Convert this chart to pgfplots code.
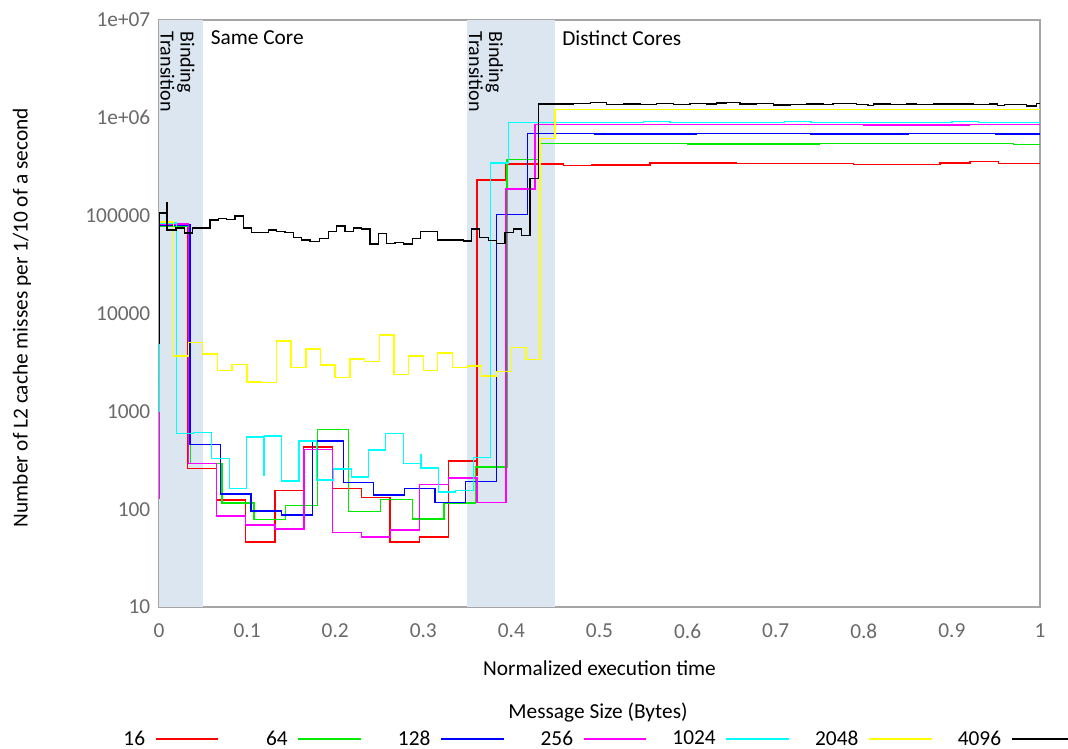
\documentclass[border=0pt]{standalone}
\usepackage{pgfplots}
\pgfplotsset{compat=1.18}
\usepackage{fontspec}
\setmainfont{Carlito}
\definecolor{shade}{RGB}{220,230,241}
\definecolor{tickgray}{RGB}{105,105,105}
\definecolor{axgray}{RGB}{165,165,165}
\definecolor{cred}{RGB}{255,0,0}
\definecolor{cgreen}{RGB}{0,235,0}
\definecolor{cblue}{RGB}{0,0,255}
\definecolor{cmag}{RGB}{255,0,255}
\definecolor{ccyan}{RGB}{0,255,255}
\definecolor{cyel}{RGB}{255,255,0}
\definecolor{cblack}{RGB}{0,0,0}
\begin{document}
\begin{tikzpicture}[font=\fontsize{16}{19}\selectfont]
\useasboundingbox (-119.25pt,-106.5pt) rectangle (681.75pt,455.25pt);
\begin{axis}[
  at={(0pt,0pt)}, anchor=south west,
  scale only axis, width=660.75pt, height=440.25pt,
  xmin=0, xmax=1, ymode=log, ymin=10, ymax=1e7,
  xtick={0,0.1,0.2,0.3,0.4,0.5,0.6,0.7,0.8,0.9,1},
  xticklabels={0,0.1,0.2,0.3,0.4,0.5,0.6,0.7,0.8,0.9,1},
  ytick={10,100,1000,10000,100000,1000000,10000000},
  yticklabels={10,100,1000,10000,100000,1e+06,1e+07},
  /pgf/number format/assume math mode=true,
  tick style={draw=none},
  axis line style={draw=axgray, line width=0.9pt},
  tick label style={text=tickgray, font=\fontsize{16}{19}\selectfont},
  xticklabel style={yshift=-9pt},
  yticklabel style={xshift=-3pt},
  xlabel={Normalized execution time},
  xlabel style={at={(axis description cs:0.5,-0.1039)}, anchor=center},
  ylabel={Number of L2 cache misses per 1/10 of a second},
  ylabel style={at={(axis description cs:-0.1555,0.493)}, anchor=center},
  legend columns=7, legend plot pos=right,
  legend style={draw=none, fill=none, at={(axis description cs:-0.0936,-0.2249)}, anchor=west,
    inner sep=0pt, outer sep=0pt, font=\fontsize{16}{19}\selectfont,
    nodes={text width=51.4pt, align=right, inner sep=0pt},
    /tikz/every odd column/.style={column sep=7.5pt},
    /tikz/every even column/.style={column sep=0pt}},
  legend image code/.code={\draw[#1] (0pt,0pt) -- (47pt,0pt);},
  every axis plot/.append style={line width=1.1pt},
  clip=false,
]
% shaded regions
\addplot[fill=shade, draw=none, forget plot] coordinates {(0,10) (0.05,10) (0.05,1e7) (0,1e7)} -- cycle;
\addplot[fill=shade, draw=none, forget plot] coordinates {(0.35,10) (0.45,10) (0.45,1e7) (0.35,1e7)} -- cycle;

% 16
\addplot[const plot, color=cred] coordinates {
(0,350) (0.0005,79000) (0.0326,261) (0.0655,124) (0.0984,46.3) (0.1317,156) (0.1638,434)
(0.1972,163) (0.2301,131) (0.2622,46.3) (0.2955,52) (0.3284,310) (0.3606,223) (0.3611,231000)
(0.3939,337000) (0.4589,324000) (0.4911,331000) (0.5573,347000) (0.6557,343000) (0.7881,335000)
(0.8865,347000) (0.9205,356000) (0.9526,340000) (1.0,340000)};
\addlegendentry{16}
% 64
\addplot[const plot, color=cgreen] coordinates {
(0,3000) (0.0005,78000) (0.0360,293) (0.0715,116) (0.1078,78.5) (0.1438,109) (0.1797,653)
(0.2153,95) (0.2512,126) (0.2875,79) (0.3235,116) (0.3593,271) (0.3950,376000) (0.4305,548000)
(0.6000,540000) (0.7500,545000) (0.9700,531000) (1.0,531000)};
\addlegendentry{64}
% 128
\addplot[const plot, color=cblue] coordinates {
(0,2000) (0.0005,80000) (0.0352,459) (0.0700,143) (0.1044,96) (0.1393,87) (0.1745,495)
(0.2092,187) (0.2432,139) (0.2784,163) (0.3133,117) (0.3481,192) (0.3833,103000) (0.4180,690000)
(0.4950,680000) (0.6100,690000) (0.7400,680000) (0.8500,690000) (0.9500,685000) (1.0,685000)};
\addlegendentry{128}
% 256
\addplot[const plot, color=cmag] coordinates {
(0,130) (0.0005,82000) (0.0333,293) (0.0655,85) (0.0984,69) (0.1317,62.5) (0.1646,408)
(0.1972,58) (0.2301,52) (0.2630,61) (0.2955,179) (0.3284,209) (0.3609,117) (0.3939,187000)
(0.4268,859000) (0.5300,850000) (0.6500,860000) (0.8000,845000) (0.9200,860000) (0.9700,850000) (1.0,850000)};
\addlegendentry{256}
% 1024
\addplot[const plot, color=ccyan] coordinates {
(0,1000) (0.0005,84000) (0.0201,594) (0.0389,608) (0.0598,330) (0.0798,163) (0.0995,548)
(0.1192,223) (0.1197,562) (0.1393,193) (0.1589,495) (0.1790,198) (0.1978,256) (0.2187,214)
(0.2376,401) (0.2573,594) (0.2773,293) (0.2970,357) (0.2975,264) (0.3170,150) (0.3368,156)
(0.3568,338) (0.3765,347000) (0.3965,899000) (0.5500,920000) (0.5800,899000) (0.7100,920000)
(0.7400,899000) (0.9000,915000) (0.9300,899000) (1.0,899000)};
\addlegendentry{1024}
% 2048
\addplot[const plot, color=cyel] coordinates {
(0,5000) (0.0003,86000) (0.0162,3660) (0.0333,5060) (0.0496,3850) (0.0666,2610) (0.0829,3000)
(0.0999,2000) (0.1166,1980) (0.1336,5220) (0.1498,2800) (0.1669,4350) (0.1835,2970) (0.1998,2220)
(0.2168,3420) (0.2330,3220) (0.2501,6060) (0.2667,2380) (0.2830,3660) (0.3000,2600) (0.3163,3950)
(0.3334,2800) (0.3499,2900) (0.3663,2290) (0.3833,2540) (0.4003,4480) (0.4166,3380) (0.4325,617000)
(0.4495,1220000) (1.0,1220000)};
\addlegendentry{2048}
% 4096
\addplot[const plot, color=cblack] coordinates {
(0,5000) (0.0005,106000) (0.0091,134000) (0.0093,71300) (0.0193,74900) (0.0287,66500) (0.0383,74900)
(0.0579,90000) (0.0673,93000) (0.0768,91000) (0.0863,98700) (0.0957,74500) (0.1052,67000)
(0.1241,71300) (0.1336,68600) (0.1430,67000) (0.1524,60000) (0.1620,56400) (0.1714,54200)
(0.1820,58700) (0.1922,68600) (0.2017,78500) (0.2111,68600) (0.2205,74500) (0.2301,72700)
(0.2395,51200) (0.2489,66100) (0.2585,52100) (0.2679,53300) (0.2773,51200) (0.2875,58700)
(0.2970,68600) (0.3159,56400) (0.3454,55100) (0.3549,72700) (0.3636,60000) (0.3738,55500)
(0.3833,52100) (0.3927,67000) (0.4022,72700) (0.4117,63000) (0.4211,240000) (0.4305,1380000)
(0.4703,1400000) (0.4900,1430000) (0.5081,1360000) (0.5270,1380000) (0.5460,1360000) (0.5649,1400000)
(0.5838,1360000) (0.6027,1400000) (0.6217,1380000) (0.6330,1410000) (0.6440,1440000) (0.6595,1380000)
(0.6784,1400000) (0.6973,1350000) (0.7163,1360000) (0.7352,1380000) (0.7541,1360000) (0.7650,1400000)
(0.7919,1370000) (0.8050,1330000) (0.8108,1380000) (0.8298,1360000) (0.8487,1380000) (0.8600,1360000)
(0.8790,1380000) (0.9000,1380000) (0.9243,1360000) (0.9430,1380000) (0.9520,1330000) (0.9600,1370000)
(0.9849,1320000) (0.9962,1400000) (1.0,1400000)};
\addlegendentry{4096}

\node[rotate=-90, anchor=south west, align=left, inner sep=0pt, font=\fontsize{15}{15}\selectfont] at (axis cs:0.0015,7.6e6) {Binding\\Transition};
\node[rotate=-90, anchor=south west, align=left, inner sep=0pt, font=\fontsize{15}{15}\selectfont] at (axis cs:0.3515,7.6e6) {Binding\\Transition};
\node[anchor=north west, inner sep=0pt] at (axis cs:0.0585,7.9e6) {Same Core};
\node[anchor=north west, inner sep=0pt] at (axis cs:0.4575,7.9e6) {Distinct Cores};
\node[anchor=center] at (axis description cs:0.4983,-0.1806) {Message Size (Bytes)};
\end{axis}
\end{tikzpicture}
\end{document}
